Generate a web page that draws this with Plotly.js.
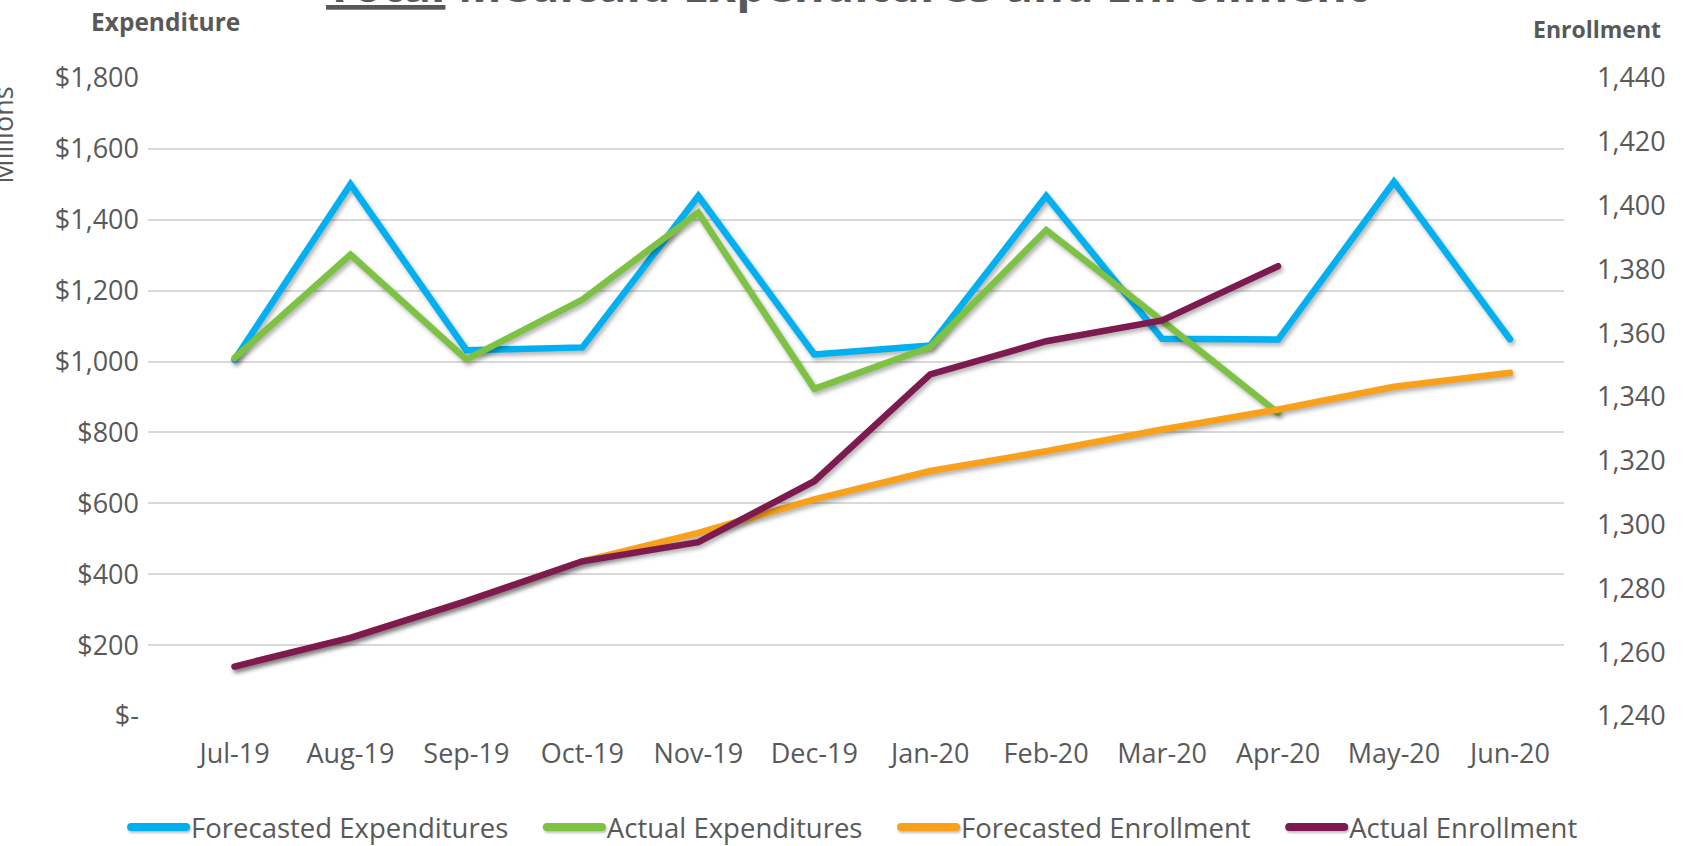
<!DOCTYPE html>
<html>
<head>
<meta charset="utf-8">
<script src="https://cdn.plot.ly/plotly-3.0.1.min.js"></script>
<style>
  html, body { margin: 0; padding: 0; background: #fff; overflow: hidden; }
  #chart { width: 1694px; height: 846px; }
  .scatterlayer .js-line { filter: drop-shadow(2px 3px 2px rgba(0,0,0,0.3)); stroke-linecap: round; }
  .legend .legendlines path {
    stroke-width: 8px !important;
    stroke-linecap: round;
    filter: drop-shadow(1px 2px 1px rgba(0,0,0,0.25));
  }
</style>
</head>
<body>
<div id="chart"></div>
<script>
const months = ["Jul-19", "Aug-19", "Sep-19", "Oct-19", "Nov-19", "Dec-19",
                "Jan-20", "Feb-20", "Mar-20", "Apr-20", "May-20", "Jun-20"];

// expenditures, $ millions
const forecastExp = [1005, 1500, 1032, 1040, 1467, 1020, 1045, 1467, 1064, 1062, 1507, 1063];
const actualExp = [1010, 1302, 1006, 1175, 1420, 923, 1041, 1371, 1115, 855];

// enrollment (thousands)
const forecastEnr = [1255.5, 1264.5, 1276, 1288.5, 1297.4, 1307.9, 1316.8, 1323, 1329.8, 1336.1, 1343.2, 1347.6];
const actualEnr = [1255.5, 1264.5, 1276, 1288.5, 1294.5, 1313.6, 1347.1, 1357.5, 1364, 1381];

const expTicks = [0, 200, 400, 600, 800, 1000, 1200, 1400, 1600, 1800];
const expTickText = ["$-", "$200", "$400", "$600", "$800", "$1,000", "$1,200", "$1,400", "$1,600", "$1,800"];

const seriesNames = ["Forecasted Expenditures", "Actual Expenditures", "Forecasted Enrollment", "Actual Enrollment"];

const grey = "#595959";
const tickFont = { family: "Open Sans, sans-serif", size: 27, color: grey };
// pad legend entries so the items sit as far apart as in the original
const pad = "\u00A0".repeat(4);

const traces = [
  {
    x: months, y: forecastExp, name: seriesNames[0] + pad,
    type: "scatter", mode: "lines",
    line: { color: "#00B0F0", width: 6.5 }
  },
  {
    x: months.slice(0, actualExp.length), y: actualExp, name: seriesNames[1] + pad,
    type: "scatter", mode: "lines",
    line: { color: "#7DC243", width: 6.5 }
  },
  {
    x: months, y: forecastEnr, name: seriesNames[2] + pad, yaxis: "y2",
    type: "scatter", mode: "lines",
    line: { color: "#F9A11B", width: 6.5 }
  },
  {
    x: months.slice(0, actualEnr.length), y: actualEnr, name: seriesNames[3], yaxis: "y2",
    type: "scatter", mode: "lines",
    line: { color: "#7D1A50", width: 6.5 }
  }
];

const layout = {
  width: 1694,
  height: 846,
  margin: { l: 148, r: 130, t: 78, b: 130, autoexpand: false },
  paper_bgcolor: "#fff",
  plot_bgcolor: "#fff",
  showlegend: true,
  legend: {
    orientation: "h",
    x: -0.0155, xanchor: "left",
    y: -0.174, yanchor: "middle",
    itemwidth: 55,
    font: { family: "Open Sans, sans-serif", size: 27.5, color: grey },
    traceorder: "normal"
  },
  xaxis: {
    type: "category",
    range: [-0.746, 11.466],
    showgrid: false,
    zeroline: false,
    showline: false,
    ticks: "",
    ticklabelstandoff: 19,
    tickfont: tickFont
  },
  yaxis: {
    range: [0, 1800],
    tickvals: expTicks,
    ticktext: expTickText,
    showgrid: true,
    gridcolor: "#D9D9D9",
    gridwidth: 2,
    zeroline: false,
    showline: false,
    ticks: "",
    ticklabelstandoff: 8,
    tickfont: tickFont
  },
  yaxis2: {
    overlaying: "y",
    side: "right",
    range: [1240, 1440],
    dtick: 20,
    tickformat: ",d",
    showgrid: false,
    zeroline: false,
    showline: false,
    ticks: "",
    ticklabelstandoff: 32,
    tickfont: tickFont
  },
  annotations: [
    {
      text: "<u>Total</u> Medicaid Expenditures and Enrollment",
      xref: "paper", yref: "paper", x: 0.493, y: 1.1475,
      xanchor: "center", yanchor: "middle", showarrow: false,
      font: { family: "Open Sans, sans-serif", size: 47, color: grey, weight: "bold" }
    },
    {
      text: "<b>Expenditure</b>",
      xref: "paper", yref: "paper", x: 0.0123, y: 1.089,
      xanchor: "center", yanchor: "middle", showarrow: false,
      font: { family: "Open Sans, sans-serif", size: 24.5, color: grey }
    },
    {
      text: "<b>Enrollment</b>",
      xref: "paper", yref: "paper", x: 1.023, y: 1.0775,
      xanchor: "center", yanchor: "middle", showarrow: false,
      font: { family: "Open Sans, sans-serif", size: 23, color: grey }
    },
    {
      text: "Millions",
      xref: "paper", yref: "paper", x: -0.1025, y: 0.911,
      xanchor: "center", yanchor: "middle", showarrow: false, textangle: -90,
      font: { family: "Open Sans, sans-serif", size: 27, color: grey }
    }
  ]
};

Plotly.newPlot("chart", traces, layout, { displayModeBar: false, staticPlot: true });
</script>
</body>
</html>
